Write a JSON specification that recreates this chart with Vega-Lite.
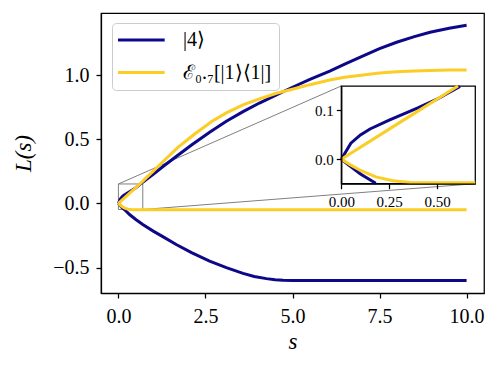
{
  "$schema": "https://vega.github.io/schema/vega-lite/v6.json",
  "width": 383,
  "height": 280,
  "autosize": {"type": "none"},
  "padding": {"left": 101, "top": 13, "right": 14, "bottom": 75},
  "background": "white",
  "config": {
    "font": "Liberation Serif",
    "view": {"stroke": "black", "strokeWidth": 1.25},
    "axis": {
      "grid": false,
      "domainColor": "black",
      "domainWidth": 1.25,
      "tickColor": "black",
      "tickWidth": 1.25,
      "tickSize": 5,
      "labelColor": "black",
      "titleColor": "black",
      "labelFlush": false,
      "labelOverlap": false,
      "titleFontWeight": "normal"
    }
  },
  "datasets": {
    "curves": [
      {"s": 0, "L": 0, "state": "|4⟩", "branch": "upper"},
      {"s": 0.05, "L": 0.033, "state": "|4⟩", "branch": "upper"},
      {"s": 0.1, "L": 0.05, "state": "|4⟩", "branch": "upper"},
      {"s": 0.15, "L": 0.062, "state": "|4⟩", "branch": "upper"},
      {"s": 0.25, "L": 0.08, "state": "|4⟩", "branch": "upper"},
      {"s": 0.4, "L": 0.105, "state": "|4⟩", "branch": "upper"},
      {"s": 0.5, "L": 0.123, "state": "|4⟩", "branch": "upper"},
      {"s": 0.62, "L": 0.149, "state": "|4⟩", "branch": "upper"},
      {"s": 0.8, "L": 0.186, "state": "|4⟩", "branch": "upper"},
      {"s": 1.0, "L": 0.228, "state": "|4⟩", "branch": "upper"},
      {"s": 1.3, "L": 0.292, "state": "|4⟩", "branch": "upper"},
      {"s": 1.66, "L": 0.366, "state": "|4⟩", "branch": "upper"},
      {"s": 2.1, "L": 0.455, "state": "|4⟩", "branch": "upper"},
      {"s": 2.62, "L": 0.555, "state": "|4⟩", "branch": "upper"},
      {"s": 3.1, "L": 0.64, "state": "|4⟩", "branch": "upper"},
      {"s": 3.58, "L": 0.715, "state": "|4⟩", "branch": "upper"},
      {"s": 4.05, "L": 0.782, "state": "|4⟩", "branch": "upper"},
      {"s": 4.54, "L": 0.846, "state": "|4⟩", "branch": "upper"},
      {"s": 5.0, "L": 0.905, "state": "|4⟩", "branch": "upper"},
      {"s": 5.5, "L": 0.966, "state": "|4⟩", "branch": "upper"},
      {"s": 6.07, "L": 1.03, "state": "|4⟩", "branch": "upper"},
      {"s": 6.5, "L": 1.085, "state": "|4⟩", "branch": "upper"},
      {"s": 7.03, "L": 1.15, "state": "|4⟩", "branch": "upper"},
      {"s": 7.5, "L": 1.205, "state": "|4⟩", "branch": "upper"},
      {"s": 7.99, "L": 1.255, "state": "|4⟩", "branch": "upper"},
      {"s": 8.5, "L": 1.299, "state": "|4⟩", "branch": "upper"},
      {"s": 8.95, "L": 1.333, "state": "|4⟩", "branch": "upper"},
      {"s": 9.5, "L": 1.364, "state": "|4⟩", "branch": "upper"},
      {"s": 10, "L": 1.387, "state": "|4⟩", "branch": "upper"},
      {"s": 0, "L": 0, "state": "|4⟩", "branch": "lower"},
      {"s": 0.1, "L": -0.03, "state": "|4⟩", "branch": "lower"},
      {"s": 0.18, "L": -0.049, "state": "|4⟩", "branch": "lower"},
      {"s": 0.32, "L": -0.086, "state": "|4⟩", "branch": "lower"},
      {"s": 0.5, "L": -0.125, "state": "|4⟩", "branch": "lower"},
      {"s": 0.7, "L": -0.164, "state": "|4⟩", "branch": "lower"},
      {"s": 1.0, "L": -0.215, "state": "|4⟩", "branch": "lower"},
      {"s": 1.3, "L": -0.262, "state": "|4⟩", "branch": "lower"},
      {"s": 1.66, "L": -0.319, "state": "|4⟩", "branch": "lower"},
      {"s": 2.1, "L": -0.383, "state": "|4⟩", "branch": "lower"},
      {"s": 2.62, "L": -0.448, "state": "|4⟩", "branch": "lower"},
      {"s": 3.1, "L": -0.5, "state": "|4⟩", "branch": "lower"},
      {"s": 3.58, "L": -0.544, "state": "|4⟩", "branch": "lower"},
      {"s": 3.9, "L": -0.568, "state": "|4⟩", "branch": "lower"},
      {"s": 4.25, "L": -0.585, "state": "|4⟩", "branch": "lower"},
      {"s": 4.5, "L": -0.593, "state": "|4⟩", "branch": "lower"},
      {"s": 4.73, "L": -0.598, "state": "|4⟩", "branch": "lower"},
      {"s": 5.0, "L": -0.6, "state": "|4⟩", "branch": "lower"},
      {"s": 10, "L": -0.6, "state": "|4⟩", "branch": "lower"},
      {"s": 0, "L": 0, "state": "ℰ₀.₇[|1⟩⟨1|]", "branch": "upper"},
      {"s": 0.3, "L": 0.074, "state": "ℰ₀.₇[|1⟩⟨1|]", "branch": "upper"},
      {"s": 0.61, "L": 0.15, "state": "ℰ₀.₇[|1⟩⟨1|]", "branch": "upper"},
      {"s": 0.76, "L": 0.19, "state": "ℰ₀.₇[|1⟩⟨1|]", "branch": "upper"},
      {"s": 1.0, "L": 0.252, "state": "ℰ₀.₇[|1⟩⟨1|]", "branch": "upper"},
      {"s": 1.24, "L": 0.315, "state": "ℰ₀.₇[|1⟩⟨1|]", "branch": "upper"},
      {"s": 1.7, "L": 0.435, "state": "ℰ₀.₇[|1⟩⟨1|]", "branch": "upper"},
      {"s": 2.2, "L": 0.543, "state": "ℰ₀.₇[|1⟩⟨1|]", "branch": "upper"},
      {"s": 2.68, "L": 0.638, "state": "ℰ₀.₇[|1⟩⟨1|]", "branch": "upper"},
      {"s": 3.1, "L": 0.705, "state": "ℰ₀.₇[|1⟩⟨1|]", "branch": "upper"},
      {"s": 3.58, "L": 0.767, "state": "ℰ₀.₇[|1⟩⟨1|]", "branch": "upper"},
      {"s": 4.05, "L": 0.815, "state": "ℰ₀.₇[|1⟩⟨1|]", "branch": "upper"},
      {"s": 4.54, "L": 0.858, "state": "ℰ₀.₇[|1⟩⟨1|]", "branch": "upper"},
      {"s": 5.11, "L": 0.897, "state": "ℰ₀.₇[|1⟩⟨1|]", "branch": "upper"},
      {"s": 5.5, "L": 0.925, "state": "ℰ₀.₇[|1⟩⟨1|]", "branch": "upper"},
      {"s": 6.07, "L": 0.961, "state": "ℰ₀.₇[|1⟩⟨1|]", "branch": "upper"},
      {"s": 6.5, "L": 0.982, "state": "ℰ₀.₇[|1⟩⟨1|]", "branch": "upper"},
      {"s": 7.03, "L": 1.0, "state": "ℰ₀.₇[|1⟩⟨1|]", "branch": "upper"},
      {"s": 7.5, "L": 1.015, "state": "ℰ₀.₇[|1⟩⟨1|]", "branch": "upper"},
      {"s": 7.99, "L": 1.026, "state": "ℰ₀.₇[|1⟩⟨1|]", "branch": "upper"},
      {"s": 8.5, "L": 1.032, "state": "ℰ₀.₇[|1⟩⟨1|]", "branch": "upper"},
      {"s": 8.95, "L": 1.036, "state": "ℰ₀.₇[|1⟩⟨1|]", "branch": "upper"},
      {"s": 9.5, "L": 1.039, "state": "ℰ₀.₇[|1⟩⟨1|]", "branch": "upper"},
      {"s": 10, "L": 1.04, "state": "ℰ₀.₇[|1⟩⟨1|]", "branch": "upper"},
      {"s": 0, "L": 0, "state": "ℰ₀.₇[|1⟩⟨1|]", "branch": "lower"},
      {"s": 0.05, "L": -0.012, "state": "ℰ₀.₇[|1⟩⟨1|]", "branch": "lower"},
      {"s": 0.1, "L": -0.023, "state": "ℰ₀.₇[|1⟩⟨1|]", "branch": "lower"},
      {"s": 0.18, "L": -0.036, "state": "ℰ₀.₇[|1⟩⟨1|]", "branch": "lower"},
      {"s": 0.27, "L": -0.044, "state": "ℰ₀.₇[|1⟩⟨1|]", "branch": "lower"},
      {"s": 0.36, "L": -0.0475, "state": "ℰ₀.₇[|1⟩⟨1|]", "branch": "lower"},
      {"s": 0.45, "L": -0.048, "state": "ℰ₀.₇[|1⟩⟨1|]", "branch": "lower"},
      {"s": 0.7, "L": -0.048, "state": "ℰ₀.₇[|1⟩⟨1|]", "branch": "lower"},
      {"s": 10, "L": -0.048, "state": "ℰ₀.₇[|1⟩⟨1|]", "branch": "lower"}
    ]
  },
  "layer": [
    {
      "layer": [
        {
          "data": {"values": [{}]},
          "mark": {"type": "rect", "fillOpacity": 0, "stroke": "#808080", "strokeWidth": 1},
          "encoding": {
            "x": {"datum": 0},
            "x2": {"datum": 0.7},
            "y": {"datum": -0.047},
            "y2": {"datum": 0.152}
          }
        },
        {
          "data": {"values": [{}]},
          "mark": {"type": "rule", "stroke": "#808080", "strokeWidth": 1},
          "encoding": {
            "x": {"datum": 0},
            "y": {"datum": 0.152},
            "x2": {"datum": 6.401},
            "y2": {"datum": 0.915}
          }
        },
        {
          "data": {"values": [{}]},
          "mark": {"type": "rule", "stroke": "#808080", "strokeWidth": 1},
          "encoding": {
            "x": {"datum": 0.7},
            "y": {"datum": -0.047},
            "x2": {"datum": 10.25},
            "y2": {"datum": 0.154}
          }
        },
        {
          "data": {"name": "curves"},
          "mark": {"type": "line", "strokeWidth": 3, "strokeCap": "butt"},
          "encoding": {
            "x": {
              "field": "s", "type": "quantitative",
              "scale": {"domain": [-0.5, 10.5], "nice": false, "zero": false},
              "axis": {
                "values": [0, 2.5, 5, 7.5, 10], "format": ".1f",
                "title": "s", "titleFontStyle": "italic", "titleFontSize": 23,
                "labelFontSize": 20, "labelPadding": 8, "titlePadding": 4
              }
            },
            "y": {
              "field": "L", "type": "quantitative",
              "scale": {"domain": [-0.697, 1.483], "nice": false, "zero": false},
              "axis": {
                "values": [-0.5, 0, 0.5, 1], "format": ".1f",
                "title": "L(s)", "titleFontStyle": "italic", "titleFontSize": 23,
                "labelFontSize": 20, "labelPadding": 7, "titlePadding": 17
              }
            },
            "color": {
              "field": "state", "type": "nominal",
              "scale": {"domain": ["|4⟩", "ℰ₀.₇[|1⟩⟨1|]"], "range": ["#0d0887", "#fccd25"]},
              "legend": {
                "title": null, "orient": "none", "legendX": 11, "legendY": 10,
                "labelFontSize": 20, "labelColor": "black",
                "symbolType": "M-2.2,0H7.14", "symbolSize": 100, "symbolStrokeWidth": 3,
                "padding": 7, "rowPadding": 12.5, "labelOffset": 44,
                "fillColor": "rgba(255,255,255,0.8)", "strokeColor": "#cccccc",
                "cornerRadius": 4, "zindex": 1
              }
            },
            "detail": {"field": "branch"}
          }
        }
      ]
    },
    {
      "layer": [
        {
          "data": {"values": [{}]},
          "mark": {"type": "rect", "fill": "white", "stroke": "black", "strokeWidth": 1.25},
          "encoding": {
            "x": {
              "datum": 0, "type": "quantitative",
              "scale": {"domain": [0, 0.7], "range": [240.3, 374.3], "nice": false, "zero": false},
              "axis": {
                "orient": "bottom", "offset": -109.3, "values": [0, 0.25, 0.5], "format": ".2f",
                "title": null, "labelFontSize": 15, "labelPadding": 6, "zindex": 1
              }
            },
            "x2": {"datum": 0.7},
            "y": {
              "datum": -0.05, "type": "quantitative",
              "scale": {"domain": [-0.05, 0.15], "range": [170.7, 73], "nice": false, "zero": false},
              "axis": {
                "orient": "left", "offset": -240.3, "values": [0, 0.1], "format": ".1f",
                "title": null, "labelFontSize": 15, "labelPadding": 3, "zindex": 1
              }
            },
            "y2": {"datum": 0.15}
          }
        },
        {
          "data": {"name": "curves"},
          "transform": [{"filter": "datum.s <= 0.7 && datum.L <= 0.1505 && datum.L >= -0.0505"}],
          "mark": {"type": "line", "strokeWidth": 3, "strokeCap": "butt"},
          "encoding": {
            "x": {"field": "s", "type": "quantitative"},
            "y": {"field": "L", "type": "quantitative"},
            "color": {"field": "state", "type": "nominal", "legend": null},
            "detail": {"field": "branch"}
          }
        }
      ]
    }
  ],
  "resolve": {"scale": {"x": "independent", "y": "independent"}, "axis": {"x": "independent", "y": "independent"}}
}
